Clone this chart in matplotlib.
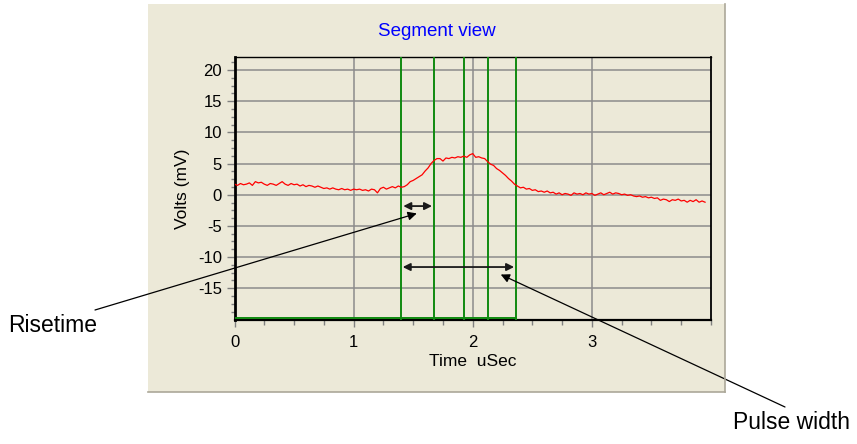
import numpy as np
import matplotlib
matplotlib.use('Agg')
import matplotlib.pyplot as plt
from matplotlib.patches import Rectangle
from matplotlib.ticker import MultipleLocator, FixedLocator

plt.rcParams['font.family'] = ['Liberation Sans', 'DejaVu Sans']
plt.rcParams['axes.unicode_minus'] = False

dt = 0.025  # uSec per sample
volts = [1.7, 1.5, 1.8, 1.6, 1.7, 1.9, 1.5, 2.1, 1.9, 2.0,
         1.7, 1.5, 1.8, 1.7, 1.5, 1.8, 2.1, 1.7, 1.5, 1.8,
         1.6, 1.7, 1.4, 1.6, 1.3, 1.5, 1.4, 1.2, 1.4, 1.2,
         1.0, 1.1, 0.9, 1.1, 0.9, 0.8, 1.0, 0.8, 0.9, 0.7,
         0.9, 0.8, 0.9, 0.7, 0.8, 0.6, 0.9, 0.8, 0.3, 1.0,
         1.2, 0.9, 1.1, 1.3, 1.1, 1.4, 1.2, 1.3, 1.6, 2.1,
         2.3, 2.6, 2.9, 3.2, 3.8, 4.3, 5.0, 5.5, 5.8, 5.8,
         5.4, 5.9, 5.8, 6.0, 5.9, 6.1, 6.0, 6.2, 6.0, 6.4,
         6.6, 6.0, 6.1, 5.9, 5.8, 5.3, 4.9, 4.7, 4.2, 3.9,
         3.5, 3.1, 2.6, 2.2, 1.7, 1.4, 1.1, 1.2, 0.9, 1.0,
         0.7, 0.8, 0.5, 0.6, 0.4, 0.6, 0.3, 0.4, 0.1, 0.3,
         0.0, 0.2, 0.1, -0.1, 0.3, 0.1, 0.2, 0.0, 0.3, 0.1,
         0.2, -0.1, 0.1, 0.3, 0.0, 0.2, 0.4, 0.1, 0.3, 0.2,
         0.0, 0.1, -0.1, 0.0, -0.2, -0.3, -0.2, -0.4, -0.3, -0.5,
         -0.4, -0.6, -0.5, -0.9, -0.7, -0.8, -1.1, -0.8, -0.9, -0.7,
         -1.0, -0.9, -1.2, -0.9, -1.1, -0.8, -1.2, -1.0, -1.2]
t = np.arange(len(volts)) * dt

# segment markers (uSec)
markers = [1.398, 1.678, 1.924, 2.131, 2.364]
rise = (1.417, 1.658, -1.82)
width = (1.412, 2.347, -11.6)

W, H = 857, 444
bg = '#ECE9D8'
fig = plt.figure(figsize=(W / 100, H / 100), dpi=100, facecolor='white')

# beige panel behind the plot
fig.add_artist(Rectangle((148 / W, (H - 392) / H), (725 - 148) / W, (392 - 4) / H,
                         transform=fig.transFigure, facecolor=bg, edgecolor='none', zorder=0))
fig.add_artist(plt.Line2D([148 / W, 725 / W], [(H - 392) / H] * 2, transform=fig.transFigure,
                          color='#ACA899', lw=1.2))
fig.add_artist(plt.Line2D([725 / W] * 2, [(H - 392) / H, (H - 4) / H], transform=fig.transFigure,
                          color='#ACA899', lw=1.2))

ax = fig.add_axes([234.5 / W, (H - 320) / H, (711 - 234.5) / W, (320 - 57) / H])
ax.set_facecolor(bg)
ax.set_xlim(0, 4.0)
ax.set_ylim(-20.1, 22.1)

ax.xaxis.set_major_locator(FixedLocator([0, 1, 2, 3]))
ax.xaxis.set_minor_locator(MultipleLocator(0.25))
ax.yaxis.set_major_locator(FixedLocator([-15, -10, -5, 0, 5, 10, 15, 20]))
ax.yaxis.set_minor_locator(FixedLocator([v for v in np.arange(-18.75, 22, 1.25) if v % 5]))

ax.grid(True, which='major', color='#8C8C8C', lw=1.1)
ax.set_axisbelow(True)
ax.tick_params(which='both', direction='out', color='#808080', width=1.0, labelsize=12)
ax.tick_params(axis='x', which='major', length=5, pad=6)
ax.tick_params(axis='x', which='minor', length=3.5)
ax.tick_params(axis='y', which='major', length=5.5, pad=3.5)
ax.tick_params(axis='y', which='minor', length=3)

for s, w in [('left', 2.0), ('bottom', 1.6), ('top', 1.0), ('right', 1.3)]:
    ax.spines[s].set_linewidth(w)
    ax.spines[s].set_color('black')

for m in markers:
    ax.axvline(m, color='#108A10', lw=1.4, zorder=3)
ax.plot([0, markers[-1]], [-19.85, -19.85], color='#108A10', lw=1.4, zorder=3)

ax.plot(t, volts, color='red', lw=0.9, zorder=4)

for x0, x1, y in [rise, width]:
    ax.annotate('', xy=(x1, y), xytext=(x0, y),
                arrowprops=dict(arrowstyle='<|-|>', color='#1A1A1A', lw=1.3,
                                mutation_scale=11, shrinkA=0, shrinkB=0), zorder=5)

ax.set_xlabel('Time  uSec', fontsize=12.5, labelpad=3)
ax.set_ylabel('Volts (mV)', fontsize=12.5, labelpad=6)
fig.text(436.5 / W, (H - 31) / H, 'Segment view', color='#0000FF', fontsize=13.5,
         ha='center', va='center')

ax.annotate('', xy=(1.53, -3.0), xycoords='data', xytext=(95, H - 310),
            textcoords='figure pixels', annotation_clip=False,
            arrowprops=dict(arrowstyle='-|>', color='black', lw=0.9,
                            mutation_scale=13, shrinkA=0, shrinkB=0))
ax.annotate('', xy=(2.235, -12.8), xycoords='data', xytext=(785, H - 407),
            textcoords='figure pixels', annotation_clip=False,
            arrowprops=dict(arrowstyle='-|>', color='black', lw=0.9,
                            mutation_scale=13, shrinkA=0, shrinkB=0))
fig.text(8 / W, (H - 332) / H, 'Risetime', fontsize=16.5, va='baseline')
fig.text(733 / W, (H - 429) / H, 'Pulse width', fontsize=16.5, va='baseline')

fig.savefig('out.png', dpi=100, facecolor='white')
